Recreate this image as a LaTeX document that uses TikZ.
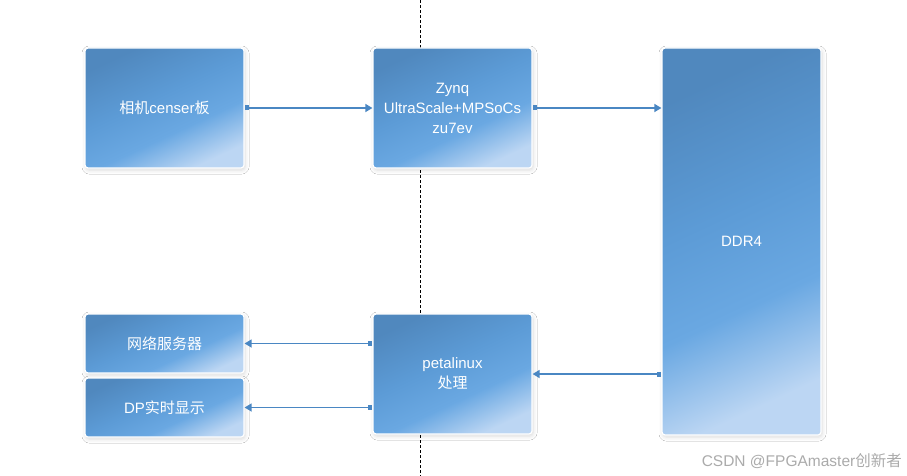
\documentclass[tikz,border=0pt]{standalone}
\usepackage{fontspec}
\setmainfont{Liberation Sans}
\newfontfamily\cjk{Noto Sans CJK SC}
\usetikzlibrary{arrows.meta,shadows.blur}
\definecolor{cA}{HTML}{5088BE}
\definecolor{cB}{HTML}{5C9BD6}
\definecolor{cD}{HTML}{6AA8E2}
\definecolor{cC}{HTML}{BCD6F3}
\definecolor{lineC}{HTML}{4A87C3}
\definecolor{wmC}{HTML}{ABABAB}
\pgfdeclareverticalshading{boxsh}{100bp}{color(0bp)=(cC); color(25bp)=(cC); color(40bp)=(cD); color(55bp)=(cB); color(75bp)=(cA); color(100bp)=(cA)}
\tikzset{
  box/.style={rounded corners=3pt, draw=white, line width=1.2pt, shading=boxsh, shading angle=25,
    text=white, align=center, font=\fontsize{15}{20}\selectfont, inner sep=0pt,
    minimum width=159pt, minimum height=120pt,
    blur shadow={shadow xshift=1pt, shadow yshift=-2pt, shadow blur radius=4pt, shadow opacity=15}},
  conn/.style={draw=lineC, line width=1.5pt, {Square[length=4pt,width=5pt]}-{Triangle[length=7pt,width=8pt]}},
  sep/.style={draw=black, line width=0.8pt, dash pattern=on 3pt off 2pt}
}
\begin{document}
\begin{tikzpicture}[x=1pt,y=-1pt]
\useasboundingbox[fill=white] (0,0) rectangle (907,476);
\coordinate (dtop) at (420.5,0);
\coordinate (dbot) at (420.5,476);
\draw[sep] (dtop) -- (dbot);
\node[box] (cam) at (164.5,108) {{\cjk 相机}censer{\cjk 板}};
\node[box] (zynq) at (452.5,108) {Zynq\\UltraScale+MPSoCs\\zu7ev};
\node[box, minimum height=387pt] (ddr) at (741.5,241.5) {DDR4};
\node[box, minimum height=59pt] (net) at (164.5,343.5) {\cjk 网络服务器};
\node[box, minimum height=59pt] (dp) at (164.5,407.5) {DP{\cjk 实时显示}};
\node[box] (pl) at (452.5,374) {petalinux\\{\cjk 处理}};
\draw[conn] (cam.east) -- (zynq.west);
\draw[conn] (zynq.east) -- (ddr.west |- zynq.east);
\draw[conn] (ddr.west |- pl.east) -- (pl.east);
\draw[conn] (pl.west |- net.east) -- (net.east);
\draw[conn] (pl.west |- dp.east) -- (dp.east);
\node[anchor=east, text=wmC, font=\fontsize{15.5}{18}\selectfont, inner sep=0pt] (wm) at (902,461) {CSDN @FPGAmaster{\cjk 创新者}};
\end{tikzpicture}
\end{document}
